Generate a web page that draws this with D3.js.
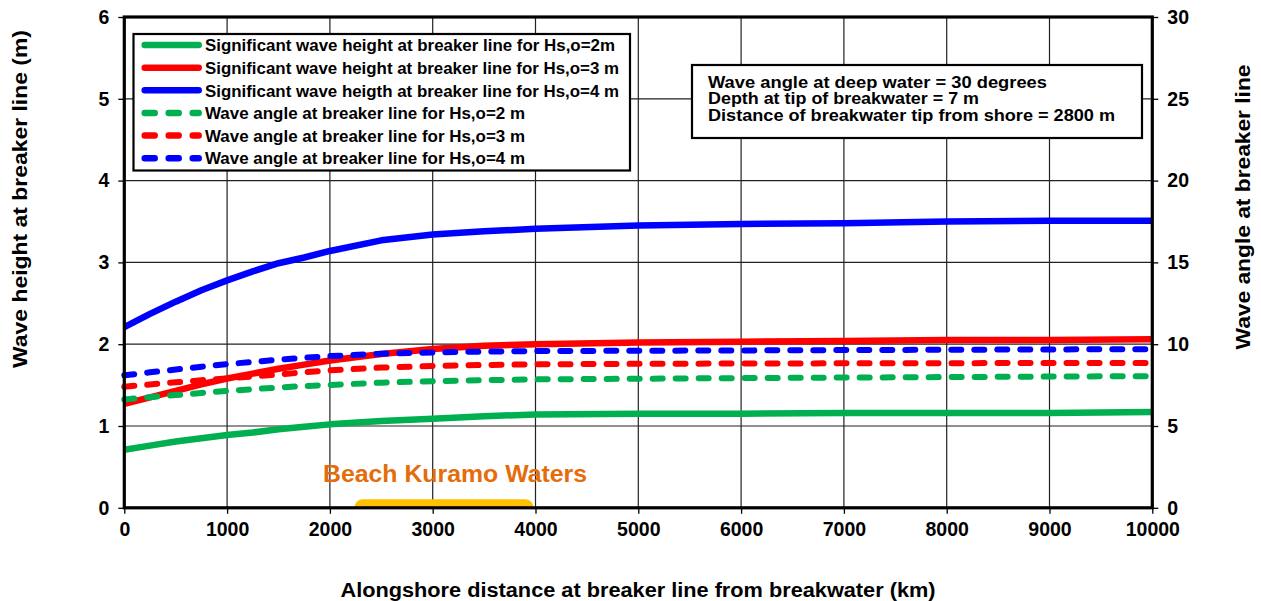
<!DOCTYPE html>
<html>
<head>
<meta charset="utf-8">
<script src="https://cdn.jsdelivr.net/npm/d3@7"></script>
<style>
  html, body { margin: 0; padding: 0; background: #fff; }
  svg { display: block; font-family: "Liberation Sans", Arial, sans-serif; font-weight: bold; }
</style>
</head>
<body>
<svg id="chart" width="1261" height="601"></svg>
<script>
// Alongshore distance from breakwater (m)
const distance = [0, 250, 500, 750, 1000, 1250, 1500, 1750, 2000, 2500, 3000, 3500, 4000, 5000, 6000, 7000, 8000, 9000, 10000];

// Significant wave height at breaker line (m), left axis
const heightHs2 = [0.71, 0.76, 0.81, 0.85, 0.89, 0.92, 0.96, 0.99, 1.02, 1.06, 1.09, 1.12, 1.14, 1.15, 1.15, 1.16, 1.16, 1.16, 1.17];
const heightHs3 = [1.27, 1.35, 1.43, 1.51, 1.58, 1.64, 1.70, 1.75, 1.80, 1.88, 1.94, 1.98, 2.00, 2.02, 2.03, 2.04, 2.05, 2.05, 2.06];
const heightHs4 = [2.21, 2.37, 2.52, 2.66, 2.78, 2.89, 2.99, 3.06, 3.14, 3.27, 3.34, 3.38, 3.41, 3.45, 3.47, 3.48, 3.50, 3.51, 3.51];

// Wave angle at breaker line (degrees), right axis
const angleHs2 = [6.62, 6.76, 6.89, 7.02, 7.14, 7.25, 7.35, 7.44, 7.51, 7.65, 7.74, 7.80, 7.85, 7.89, 7.93, 7.96, 7.99, 8.02, 8.05];
const angleHs3 = [7.40, 7.54, 7.67, 7.80, 7.91, 8.03, 8.15, 8.28, 8.40, 8.57, 8.67, 8.73, 8.77, 8.80, 8.82, 8.83, 8.84, 8.85, 8.85];
const angleHs4 = [8.10, 8.28, 8.45, 8.62, 8.78, 8.92, 9.05, 9.17, 9.27, 9.42, 9.50, 9.55, 9.58, 9.60, 9.62, 9.64, 9.66, 9.68, 9.70];

// Stretch of shoreline marked along the distance axis
const beachName = "Beach Kuramo Waters";
const beachStretch = [2320, 3900];

// Tick labels
const xTicks = [0, 1000, 2000, 3000, 4000, 5000, 6000, 7000, 8000, 9000, 10000];
const yLeftTicks = [0, 1, 2, 3, 4, 5, 6];
const yRightTicks = [0, 5, 10, 15, 20, 25, 30];

const legendLabels = [
  "Significant wave height at breaker line for Hs,o=2m",
  "Significant wave height at breaker line for Hs,o=3 m",
  "Significant wave heigth at breaker line for Hs,o=4 m",
  "Wave angle at breaker line for Hs,o=2 m",
  "Wave angle at breaker line for Hs,o=3 m",
  "Wave angle at breaker line for Hs,o=4 m"
];
const infoLines = [
  "Wave angle at deep water = 30 degrees",
  "Depth at tip of breakwater = 7 m",
  "Distance of breakwater tip from shore = 2800 m"
];

const GREEN = "#00b050", RED = "#ff0000", BLUE = "#0000ff";

const series = [
  { values: heightHs2, axis: "left", color: GREEN, dashed: false },
  { values: heightHs3, axis: "left", color: RED, dashed: false },
  { values: heightHs4, axis: "left", color: BLUE, dashed: false },
  { values: angleHs2, axis: "right", color: GREEN, dashed: true },
  { values: angleHs3, axis: "right", color: RED, dashed: true },
  { values: angleHs4, axis: "right", color: BLUE, dashed: true }
];

const svg = d3.select("#chart");
const plot = { left: 124.3, right: 1152.3, top: 17, bottom: 507.8 };

const x = d3.scaleLinear().domain([0, 10000]).range([plot.left, plot.right]);
const yL = d3.scaleLinear().domain([0, 6]).range([plot.bottom, plot.top]);
const yR = d3.scaleLinear().domain([0, 30]).range([plot.bottom, plot.top]);

svg.append("defs").append("clipPath").attr("id", "plotClip")
  .append("rect")
  .attr("x", plot.left).attr("y", plot.top)
  .attr("width", plot.right - plot.left).attr("height", plot.bottom - plot.top);

// Gridlines
const grid = svg.append("g").attr("stroke", "#222").attr("stroke-width", 1.2);
grid.selectAll("line.v").data(xTicks.slice(1, -1)).join("line")
  .attr("x1", d => x(d)).attr("x2", d => x(d))
  .attr("y1", plot.top).attr("y2", plot.bottom);
grid.selectAll("line.h").data(yLeftTicks.slice(1, -1)).join("line")
  .attr("x1", plot.left).attr("x2", plot.right)
  .attr("y1", d => yL(d)).attr("y2", d => yL(d));

// Beach stretch along the shoreline
svg.append("line")
  .attr("clip-path", "url(#plotClip)")
  .attr("x1", x(beachStretch[0])).attr("x2", x(beachStretch[1]))
  .attr("y1", yL(0)).attr("y2", yL(0))
  .attr("stroke", "#ffc000").attr("stroke-width", 17).attr("stroke-linecap", "round");

// Series lines
const lines = svg.append("g");
series.forEach(s => {
  const yScale = s.axis === "left" ? yL : yR;
  const line = d3.line().x((d, i) => x(distance[i])).y(d => yScale(d));
  lines.append("path")
    .attr("d", line(s.values))
    .attr("fill", "none")
    .attr("stroke", s.color)
    .attr("stroke-width", s.dashed ? 6 : 6.5)
    .attr("stroke-linejoin", "round")
    .attr("stroke-linecap", s.dashed ? "round" : "butt")
    .attr("stroke-dasharray", s.dashed ? "10,13" : null);
});

// Frame
svg.append("rect")
  .attr("x", plot.left).attr("y", plot.top)
  .attr("width", plot.right - plot.left).attr("height", plot.bottom - plot.top)
  .attr("fill", "none").attr("stroke", "#000").attr("stroke-width", 3.2);

// Axes
const axisFont = g => g.selectAll("text")
  .attr("font-family", "'Liberation Sans', Arial, sans-serif")
  .attr("font-weight", "bold").attr("font-size", 19.5).attr("fill", "#000");

const axL = svg.append("g").attr("transform", `translate(${plot.left},0)`)
  .call(d3.axisLeft(yL).tickValues(yLeftTicks).tickSize(6).tickPadding(9).tickFormat(d3.format("d")));
const axR = svg.append("g").attr("transform", `translate(${plot.right},0)`)
  .call(d3.axisRight(yR).tickValues(yRightTicks).tickSize(6).tickPadding(9).tickFormat(d3.format("d")));
const axB = svg.append("g").attr("transform", `translate(0,${plot.bottom})`)
  .call(d3.axisBottom(x).tickValues(xTicks).tickSize(6).tickPadding(8).tickFormat(d3.format("d")));
[axL, axR, axB].forEach(a => {
  a.select(".domain").remove();
  a.selectAll(".tick line").attr("stroke", "#000").attr("stroke-width", 1.3);
  a.call(axisFont);
});

// Axis titles
svg.append("text")
  .attr("transform", "translate(27,199) rotate(-90)")
  .attr("text-anchor", "middle").attr("font-size", 21)
  .attr("textLength", 338).attr("lengthAdjust", "spacingAndGlyphs")
  .text("Wave height at breaker line (m)");
svg.append("text")
  .attr("transform", "translate(1249.5,207) rotate(-90)")
  .attr("text-anchor", "middle").attr("font-size", 21)
  .attr("textLength", 285).attr("lengthAdjust", "spacingAndGlyphs")
  .text("Wave angle at breaker line");
svg.append("text")
  .attr("x", 638).attr("y", 597)
  .attr("text-anchor", "middle").attr("font-size", 20)
  .attr("textLength", 595).attr("lengthAdjust", "spacingAndGlyphs")
  .text("Alongshore distance at breaker line from breakwater (km)");

// Beach label
svg.append("text")
  .attr("x", 455).attr("y", 481.5)
  .attr("text-anchor", "middle").attr("font-size", 24).attr("fill", "#e46c0a")
  .attr("textLength", 264).attr("lengthAdjust", "spacingAndGlyphs")
  .text(beachName);

// Legend
const legend = svg.append("g");
legend.append("rect")
  .attr("x", 133.5).attr("y", 34).attr("width", 496.5).attr("height", 136.5)
  .attr("fill", "#fff").attr("stroke", "#000").attr("stroke-width", 2.2);
const legendWidths = [410, 414, 414, 320, 320, 320];
series.forEach((s, i) => {
  const cy = 45 + i * 22.65;
  legend.append("line")
    .attr("x1", 144.7).attr("x2", 198.7)
    .attr("y1", cy).attr("y2", cy)
    .attr("stroke", s.color).attr("stroke-width", 6.5)
    .attr("stroke-linecap", "round")
    .attr("stroke-dasharray", s.dashed ? "10,14" : null);
  legend.append("text")
    .attr("x", 205).attr("y", cy + 6.2)
    .attr("font-size", 17)
    .attr("textLength", legendWidths[i]).attr("lengthAdjust", "spacingAndGlyphs")
    .text(legendLabels[i]);
});

// Information box
const info = svg.append("g");
info.append("rect")
  .attr("x", 692).attr("y", 65).attr("width", 450).attr("height", 73)
  .attr("fill", "#fff").attr("stroke", "#000").attr("stroke-width", 2.2);
const infoWidths = [339, 271, 407];
infoLines.forEach((t, i) => {
  info.append("text")
    .attr("x", 708).attr("y", 87.5 + i * 16.7)
    .attr("font-size", 16.5)
    .attr("textLength", infoWidths[i]).attr("lengthAdjust", "spacingAndGlyphs")
    .text(t);
});
</script>
</body>
</html>
